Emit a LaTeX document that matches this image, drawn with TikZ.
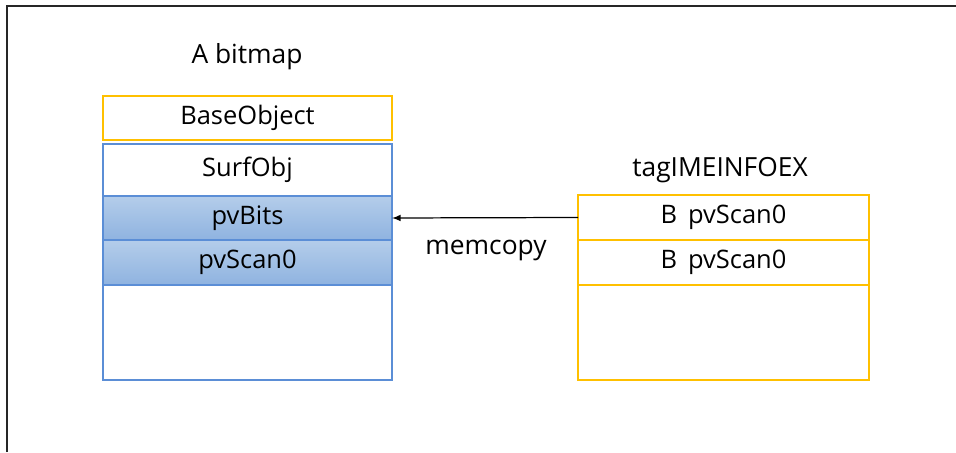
\documentclass[tikz,border=0pt]{standalone}
\usepackage{fontspec}
\setmainfont{Open Sans}
\usetikzlibrary{positioning}
\definecolor{objorange}{HTML}{FFC000}
\definecolor{surfblue}{HTML}{5B8ED6}
\definecolor{celltop}{HTML}{B4CDEA}
\definecolor{cellbot}{HTML}{8FB3E0}
\tikzset{
  cell/.style={draw=#1, line width=0.8pt, minimum width=5.78cm, inner sep=0pt, outer sep=0pt, font=\fontsize{14.5}{17}\selectfont},
  filled/.style={top color=celltop, bottom color=cellbot},
  title/.style={font=\fontsize{15}{18}\selectfont}
}

\begin{document}
\begin{tikzpicture}[x=1cm,y=1cm]
\useasboundingbox (0,0) rectangle (19.12,9.04);
\draw[line width=1.3pt, black!85] (0.14,0) -- (0.14,8.92) -- (19.12,8.92);
% bitmap object
\node[title] (bmptitle) at (4.94,7.9) {A bitmap};
\node[cell=objorange, minimum height=0.88cm, anchor=north] (base) at (4.95,7.12) {BaseObject};
\node[cell=surfblue, minimum height=1.04cm, below=0.08cm of base] (surf) {SurfObj};
\node[cell=surfblue, filled, minimum height=0.88cm, below=0pt of surf] (pvbits) {pvBits};
\node[cell=surfblue, filled, minimum height=0.9cm, below=0pt of pvbits] (pvscan) {pvScan0};
\node[cell=surfblue, minimum height=1.9cm, below=0pt of pvscan] (bmprest) {};
% tagIMEINFOEX
\node[title] (imetitle) at (14.4,5.64) {tagIMEINFOEX};
\node[cell=objorange, minimum width=5.82cm, minimum height=0.9cm, anchor=north] (scanA) at (14.47,5.14) {B\ \,pvScan0};
\node[cell=objorange, minimum width=5.82cm, minimum height=0.9cm, below=0pt of scanA] (scanB) {B\ \,pvScan0};
\node[cell=objorange, minimum width=5.82cm, minimum height=1.9cm, below=0pt of scanB] (imerest) {};
% copy
\draw[-latex, line width=0.7pt] (scanA.west) -- (pvbits.east);
\node[title] (memcopy) at (9.72,4.04) {memcopy};
\end{tikzpicture}
\end{document}
